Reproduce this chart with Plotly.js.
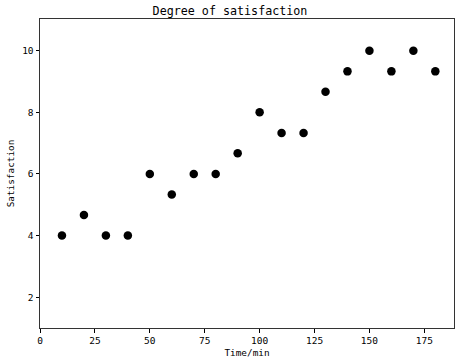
<!DOCTYPE html>
<html>
<head>
<meta charset="utf-8">
<script src="https://cdn.plot.ly/plotly-3.0.1.min.js"></script>
<style>html,body{margin:0;padding:0;background:#fff;}#chart{width:460px;height:363px;}</style>
</head>
<body>
<div id="chart"></div>
<script>
const timeMin = [10, 20, 30, 40, 50, 60, 70, 80, 90, 100, 110, 120, 130, 140, 150, 160, 170, 180];
const satisfaction = [4, 4.67, 4, 4, 6, 5.33, 6, 6, 6.67, 8, 7.33, 7.33, 8.67, 9.33, 10, 9.33, 10, 9.33];
const xTicks = [0, 25, 50, 75, 100, 125, 150, 175];
const yTicks = [2, 4, 6, 8, 10];

const fontFam = '"DejaVu Sans Mono", "Liberation Mono", monospace';

Plotly.newPlot('chart', [{
  x: timeMin,
  y: satisfaction,
  type: 'scatter',
  mode: 'markers',
  marker: {color: '#000', size: 8.5},
  showlegend: false,
  hoverinfo: 'skip'
}], {
  width: 460, height: 363,
  margin: {l: 39.5, r: 6, t: 19, b: 35},
  paper_bgcolor: '#fff', plot_bgcolor: '#fff',
  title: {text: 'Degree of satisfaction', font: {family: fontFam, size: 11.7, color: '#000'}, x: 0.5, xanchor: 'center', y: 1, yref: 'paper', yanchor: 'bottom', pad: {b: 4}},
  xaxis: {
    range: [0, 188.5], tickvals: xTicks, ticktext: xTicks.map(String),
    showgrid: false, zeroline: false, showline: true, mirror: true,
    linecolor: '#333', linewidth: 1, ticks: 'outside', ticklen: 3.5, tickcolor: '#000',
    tickfont: {family: fontFam, size: 9.5, color: '#000'},
    title: {text: 'Time/min', font: {family: fontFam, size: 9.4, color: '#000'}, standoff: 4}
  },
  yaxis: {
    range: [1, 11.03], tickvals: yTicks, ticktext: yTicks.map(String),
    showgrid: false, zeroline: false, showline: true, mirror: true,
    linecolor: '#333', linewidth: 1, ticks: 'outside', ticklen: 3.5, tickcolor: '#000',
    tickfont: {family: fontFam, size: 9.5, color: '#000'},
    title: {text: 'Satisfaction', font: {family: fontFam, size: 9.4, color: '#000'}, standoff: 5}
  }
}, {staticPlot: true, displayModeBar: false});
</script>
</body>
</html>
